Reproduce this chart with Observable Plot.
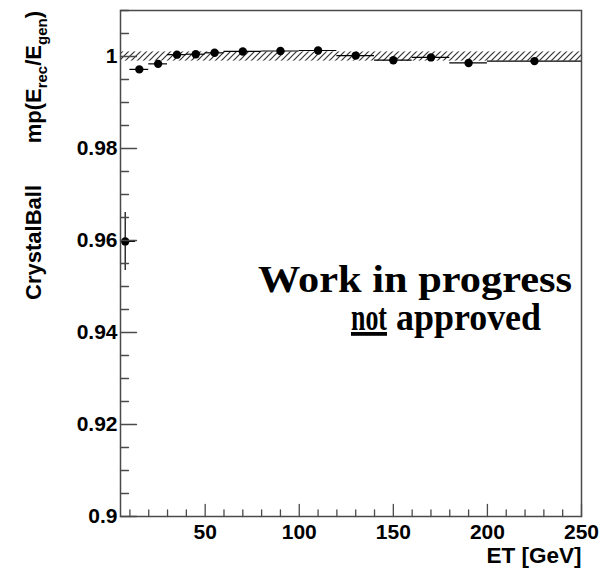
<!DOCTYPE html>
<html>
<head>
<meta charset="utf-8">
<script src="https://cdn.jsdelivr.net/npm/d3@7"></script>
<script src="https://cdn.jsdelivr.net/npm/@observablehq/plot@0.6"></script>
<style>
  html, body { margin: 0; padding: 0; background: #fff; }
  #chart svg { display: block; }
</style>
</head>
<body>
<div id="chart"></div>
<script>
// Crystal Ball peak position of E_rec/E_gen per ET bin
const et      = [7.5, 15, 25, 35, 45, 55, 70, 90, 110, 130, 150, 170, 190, 225];
const etLow   = [5, 10, 20, 30, 40, 50, 60, 80, 100, 120, 140, 160, 180, 200];
const etHigh  = [13, 20, 30, 40, 50, 60, 80, 100, 120, 140, 160, 180, 200, 250];
const peak    = [0.9598, 0.9972, 0.9984, 1.0004, 1.0005, 1.0008, 1.0011, 1.0012, 1.0013, 1.0002, 0.9992, 0.9998, 0.9986, 0.9990];
const peakErr = [0.0063, 0.0004, 0.0004, 0.0003, 0.0003, 0.0003, 0.0003, 0.0003, 0.0003, 0.0003, 0.0003, 0.0003, 0.0003, 0.0003];

// ±0.1% tolerance band around unity
const bandLow = [0.999];
const bandHigh = [1.001];

const xDomain = [5, 250];
const yDomain = [0.9, 1.01];
const xTickLabels = [50, 100, 150, 200, 250];
const yTickLabels = [0.9, 0.92, 0.94, 0.96, 0.98, 1];
const xMinor = d3.range(10, 251, 10).filter(v => v % 50 !== 0);
const yMinor = d3.range(181, 203).map(k => +(k * 0.005).toFixed(3)).filter(v => !yTickLabels.includes(v));

const xTitle = "ET [GeV]";
const yTitleA = "CrystalBall";
const stampLine1 = "Work in progress";
const stampNot = "not";
const stampRest = "approved";

const rows = et.map((x, i) => ({x, y: peak[i], e: peakErr[i], lo: etLow[i], hi: etHigh[i]}));
const band = bandLow.map((lo, i) => ({lo, hi: bandHigh[i]}));

// short inward tick drawn from the anchor point
const tickShape = {draw(ctx, l) { ctx.moveTo(0, 0); ctx.lineTo(0, -l); }};
const axisColor = "#4a4a4a";

const plot = Plot.plot({
  width: 602,
  height: 568,
  marginLeft: 120,
  marginRight: 21,
  marginTop: 10,
  marginBottom: 52,
  x: {domain: xDomain},
  y: {domain: yDomain},
  style: {fontFamily: "'Liberation Sans', Arial, sans-serif", fontWeight: "bold", fontSize: "21px", color: "black", background: "white", overflow: "visible"},
  marks: [
    Plot.rect(band, {x1: () => xDomain[0], x2: () => xDomain[1], y1: "lo", y2: "hi", fill: "url(#hatch)"}),
    Plot.ruleY(rows, {y: "y", x1: "lo", x2: "hi", stroke: "black", strokeWidth: 1.2}),
    Plot.ruleX(rows, {x: "x", y1: d => d.y - d.e, y2: d => d.y + d.e, stroke: "black", strokeWidth: 1.2}),
    Plot.dot(rows, {x: "x", y: "y", r: 4.2, fill: "black", stroke: "none"}),
    // bottom ticks
    Plot.vector(xTickLabels, {x: d => d, frameAnchor: "bottom", anchor: "start", rotate: 0, length: 12, shape: tickShape, stroke: axisColor, strokeWidth: 1.3}),
    Plot.vector(xMinor, {x: d => d, frameAnchor: "bottom", anchor: "start", rotate: 0, length: 6.5, shape: tickShape, stroke: axisColor, strokeWidth: 1.3}),
    // left ticks
    Plot.vector(yTickLabels, {y: d => d, frameAnchor: "left", anchor: "start", rotate: 90, length: 16, shape: tickShape, stroke: axisColor, strokeWidth: 1.3}),
    Plot.vector(yMinor, {y: d => d, frameAnchor: "left", anchor: "start", rotate: 90, length: 8, shape: tickShape, stroke: axisColor, strokeWidth: 1.3}),
    Plot.axisX({ticks: xTickLabels, tickSize: 0, tickPadding: 8, label: null, tickFormat: d => String(d)}),
    Plot.axisY({ticks: yTickLabels, tickSize: 0, tickPadding: 3, label: null, tickFormat: d => String(d)}),
    Plot.frame({stroke: axisColor, strokeWidth: 1.5}),
    Plot.text([xTitle], {text: d => d, frameAnchor: "bottom-right", textAnchor: "end", lineAnchor: "bottom", dy: 46, fontSize: 22.5, fontWeight: "bold"})
  ]
});

document.getElementById("chart").appendChild(plot);

const svg = d3.select(plot);

// hatch pattern for the band
const pat = svg.insert("defs", ":first-child")
  .append("pattern")
  .attr("id", "hatch")
  .attr("patternUnits", "userSpaceOnUse")
  .attr("width", 6)
  .attr("height", 6);
pat.append("path")
  .attr("d", "M-1,1 l2,-2 M0,6 l6,-6 M5,7 l2,-2")
  .attr("stroke", "#333")
  .attr("stroke-width", 1.2)
  .attr("fill", "none");

// rotated y-axis title with subscripts
const titleFont = "'Liberation Sans', Arial, sans-serif";
svg.append("text")
  .attr("transform", "translate(41,185) rotate(-90)")
  .attr("text-anchor", "end")
  .attr("font-family", titleFont)
  .attr("font-weight", "bold")
  .attr("font-size", 22)
  .attr("fill", "black")
  .text(yTitleA);

const t2 = svg.append("text")
  .attr("transform", "translate(41,11) rotate(-90)")
  .attr("text-anchor", "end")
  .attr("font-family", titleFont)
  .attr("font-weight", "bold")
  .attr("font-size", 22)
  .attr("fill", "black");
t2.append("tspan").text("mp(E");
t2.append("tspan").attr("font-size", 15).attr("dy", 6).text("rec");
t2.append("tspan").attr("dy", -6).text("/E");
t2.append("tspan").attr("font-size", 15).attr("dy", 6).text("gen");
t2.append("tspan").attr("dy", -6).text(")");

// "Work in progress / not approved" stamp
const serif = "'Liberation Serif', 'Times New Roman', serif";
function stamp(str, x, y, len) {
  return svg.append("text")
    .attr("x", x).attr("y", y)
    .attr("text-anchor", "start")
    .attr("font-family", serif).attr("font-weight", "bold").attr("font-size", 38)
    .attr("textLength", len).attr("lengthAdjust", "spacingAndGlyphs")
    .attr("fill", "black")
    .text(str);
}
stamp(stampLine1, 258, 292, 314);
stamp(stampNot, 351, 330, 36).attr("text-decoration", "underline");
stamp(stampRest, 396, 330, 145);
</script>
</body>
</html>
